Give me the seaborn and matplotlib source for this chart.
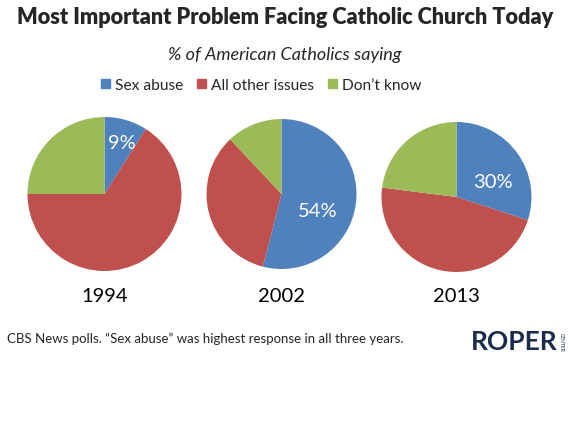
import matplotlib.pyplot as plt
import seaborn as sns

# === DATA ===
years = ["1994", "2002", "2013"]
categories = ["Sex abuse", "All other issues", "Don\u2019t know"]
sex_abuse = [9, 54, 30]
other_issues = [66, 34, 47]
dont_know = [25, 12, 23]

sns.set_theme(style="white")
plt.rcParams["font.family"] = ["Lato", "DejaVu Sans"]

colors = ["#4F81BD", "#C0504D", "#9BBB59"]

fig = plt.figure(figsize=(5.7, 4.27), dpi=100)
W, H = 570, 427

# pie centres / radius in pixels
centers = [(104.5, 195), (281.5, 195), (456.5, 198)]
radii = [77, 75, 75]
label_pos = [(0.22, 0.67), (0.48, -0.22), (0.48, 0.20)]

for i, year in enumerate(years):
    cx, cy = centers[i]
    r = radii[i]
    ax = fig.add_axes([(cx - r) / W, 1 - (cy + r) / H, 2 * r / W, 2 * r / H])
    vals = [sex_abuse[i], other_issues[i], dont_know[i]]
    ax.pie(vals, colors=colors, startangle=90, counterclock=False,
           wedgeprops=dict(linewidth=0), radius=1)
    ax.set_xlim(-1, 1)
    ax.set_ylim(-1, 1)
    ax.set_aspect("equal")
    ax.axis("off")
    lx, ly = label_pos[i]
    ax.text(lx, ly, f"{sex_abuse[i]}%", color="white", fontsize=14.5,
            ha="center", va="center")
    fig.text(cx / W, 1 - 296 / H, year, fontsize=14.5, ha="center", va="center", color="black")

fig.text(0.5, 1 - 18 / H, "Most Important Problem Facing Catholic Church Today",
         fontsize=15.6, fontweight="heavy", ha="center", va="center")
fig.text(0.5, 1 - 55 / H, "% of American Catholics saying", fontsize=13,
         style="italic", ha="center", va="center")

# legend
handles = [plt.Rectangle((0, 0), 1, 1, color=c) for c in colors]
fig.legend(handles, categories, loc="center", bbox_to_anchor=(261 / W, 1 - 86 / H),
           ncol=3, frameon=False, fontsize=11.2, handlelength=0.6, handleheight=0.6,
           handletextpad=0.3, columnspacing=0.9)

fig.text(7 / W, 1 - 339 / H,
         "CBS News polls. \u201cSex abuse\u201d was highest response in all three years.",
         fontsize=9.5, ha="left", va="center")

fig.text(471 / W, 1 - 342 / H, "ROPER", fontsize=19, fontweight="bold",
         color="#1B2B4B", ha="left", va="center")
fig.text(561 / W, 1 - 342 / H, "CENTER", fontsize=3.5, rotation=-90,
         color="#1B2B4B", ha="center", va="center")

fig.savefig("out.png", dpi=100, facecolor="white")
